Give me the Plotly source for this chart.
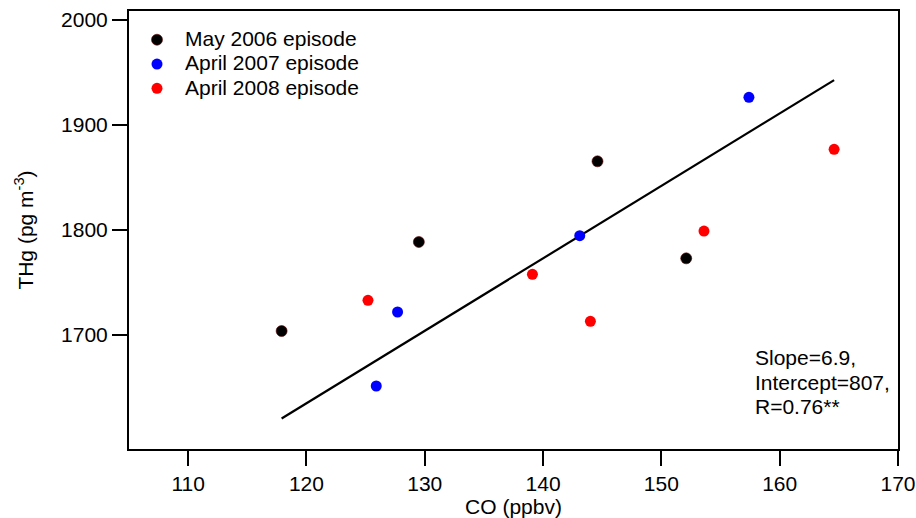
import plotly.graph_objects as go

# Data
co_2006 = [117.9, 129.5, 144.6, 152.1]
thg_2006 = [1703.8, 1788.6, 1865.4, 1773.0]

co_2007 = [125.9, 127.7, 143.1, 157.4]
thg_2007 = [1651.4, 1721.9, 1794.6, 1926.4]

co_2008 = [125.2, 139.1, 144.0, 153.6, 164.6]
thg_2008 = [1733.0, 1757.8, 1713.0, 1799.0, 1876.9]

series_names = ["May 2006 episode", "April 2007 episode", "April 2008 episode"]
slope = 6.9
intercept = 807
r_text = "R=0.76**"

x_ticks = [110, 120, 130, 140, 150, 160, 170]
y_ticks = [1700, 1800, 1900, 2000]

FONT = "Arial, Liberation Sans, sans-serif"
FS = 21

all_co = co_2006 + co_2007 + co_2008
x_fit = [min(all_co), max(all_co)]
y_fit = [intercept + slope * v for v in x_fit]


def big(s):
    return f'<span style="font-size:{FS}px">{s}</span>'


fig = go.Figure()
fig.add_trace(go.Scatter(x=x_fit, y=y_fit, mode="lines",
                         line=dict(color="black", width=2.2), showlegend=False,
                         hoverinfo="skip"))
fig.add_trace(go.Scatter(x=co_2006, y=thg_2006, mode="markers", name=big(series_names[0]),
                         marker=dict(color="black", size=11, line=dict(color="#5a0000", width=0.6))))
fig.add_trace(go.Scatter(x=co_2007, y=thg_2007, mode="markers", name=big(series_names[1]),
                         marker=dict(color="#0000ff", size=11, line=dict(width=0))))
fig.add_trace(go.Scatter(x=co_2008, y=thg_2008, mode="markers", name=big(series_names[2]),
                         marker=dict(color="#ff0000", size=11, line=dict(width=0))))

ann_lines = [f"Slope={slope},", f"Intercept={intercept},", r_text]
ann_y = [0.2078, 0.1507, 0.0959]
for txt, yy in zip(ann_lines, ann_y):
    fig.add_annotation(text=txt, xref="paper", yref="paper", x=0.812, y=yy,
                       xanchor="left", yanchor="middle", showarrow=False,
                       font=dict(family=FONT, size=FS, color="black"))

axis_common = dict(showline=True, linecolor="black", linewidth=2, mirror=True,
                   ticks="outside", ticklen=15, tickwidth=2, tickcolor="black",
                   showgrid=False, zeroline=False,
                   tickfont=dict(family=FONT, size=FS, color="black"))

fig.update_xaxes(range=[105, 170], tickvals=x_ticks,
                 title=dict(text="CO (ppbv)", font=dict(family=FONT, size=FS, color="black"), standoff=2),
                 **axis_common)
fig.update_yaxes(range=[1591.4, 2008.6], tickvals=y_ticks,
                 title=dict(text="THg (pg m<sup>-3</sup>)", font=dict(family=FONT, size=FS, color="black"), standoff=22),
                 **axis_common)

fig.update_layout(
    width=916, height=518,
    margin=dict(l=129, r=18, t=11, b=69, autoexpand=False),
    plot_bgcolor="white", paper_bgcolor="white",
    font=dict(family=FONT, size=FS, color="black"),
    legend=dict(x=0.0, y=0.9736, xanchor="left", yanchor="top",
                bgcolor="rgba(0,0,0,0)", font=dict(family=FONT, size=16.4, color="black"),
                itemwidth=46, tracegroupgap=0),
)

fig.write_html("out.html")
